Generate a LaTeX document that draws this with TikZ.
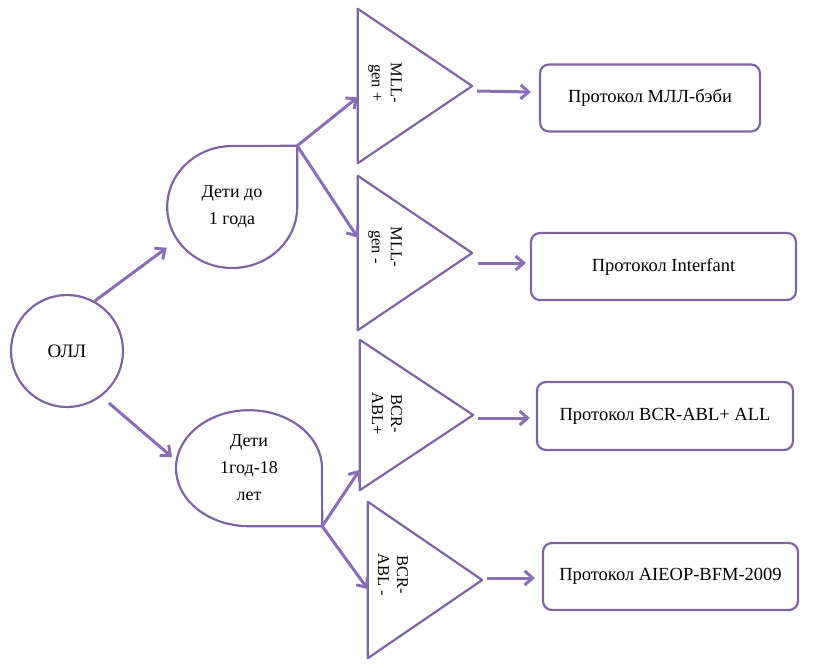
\documentclass[tikz,border=0pt]{standalone}
\usepackage{fontspec}
\setmainfont{Liberation Serif}
\definecolor{allPurple}{HTML}{8064A2}
\definecolor{allArrow}{HTML}{8A6DB5}
\usepackage{tikz}
\usetikzlibrary{arrows.meta, positioning}

\begin{document}
\begin{tikzpicture}[x=1pt, y=-1pt,
  shape line/.style={draw=allPurple, line width=2.2pt, line join=round},
  ring/.style={circle, shape line, minimum size=112pt, inner sep=0pt,
    font=\fontsize{19}{22}\selectfont},
  drop/.style={rectangle, inner sep=0pt, align=center,
    font=\fontsize{18}{27}\selectfont},
  trig/.style={rectangle, inner sep=0pt, minimum width=114pt,
    minimum height=154pt},
  gtxt/.style={rotate=-90, align=center, inner sep=0pt,
    font=\fontsize{16.5}{19}\selectfont},
  proto/.style={rectangle, rounded corners=9pt, shape line,
    minimum height=67pt, font=\fontsize{18.5}{21}\selectfont},
  arr/.style={draw=allArrow, line width=3pt,
    -{Straight Barb[length=8pt, width=14pt]}}]
  \useasboundingbox (0,0) rectangle (814,671);

  % left column
  \node[ring] (oll) at (67,351) {ОЛЛ};
  \node[drop, minimum width=130pt, minimum height=122pt] (kid1) at (232,207)
    {Дети до\\1 года};
  \node[drop, minimum width=146pt, minimum height=116pt] (kid2) at (249,468)
    {Дети\\1год-18\\лет};
  \draw[shape line] (kid1.east) arc[start angle=0, end angle=270,
    x radius=65, y radius=61] -- (kid1.north east) -- cycle;
  \draw[shape line] (kid2.south) arc[start angle=90, end angle=360,
    x radius=73, y radius=58] -- (kid2.south east) -- cycle;

  % gene triangles
  \node[trig] (t1) at (415,86) {};
  \node[trig] (t2) at (415,253) {};
  \node[trig, minimum width=113pt, minimum height=150pt] (t3) at (416.5,415) {};
  \node[trig, minimum height=156pt] (t4) at (425,580) {};
  \foreach \t in {t1,t2,t3,t4}
    \draw[shape line] (\t.north west) -- (\t.east) -- (\t.south west) -- cycle;
  \node[gtxt] (g1) at (385,83) {MLL-\\gen +};
  \node[gtxt] (g2) at (385,247) {MLL-\\gen -};
  \node[gtxt] (g3) at (387,414) {BCR-\\ABL+};
  \node[gtxt] (g4) at (393,575) {BCR-\\ABL -};

  % protocols
  \node[proto, minimum width=220pt] (p1) at (650,98) {Протокол МЛЛ-бэби};
  \node[proto, minimum width=265pt] (p2) at (663.5,266.5) {Протокол Interfant};
  \node[proto, minimum width=256pt, minimum height=68pt] (p3) at (665,416)
    {Протокол BCR-ABL+ ALL};
  \node[proto, minimum width=255pt] (p4) at (670.5,576.5)
    {Протокол AIEOP-BFM-2009};

  % arrows
  \draw[arr] (oll.61) -- (kid1.212);
  \draw[arr, shorten <=10pt, shorten >=5pt] (oll.-53) -- (kid2.174);
  \draw[arr] (kid1.north east) -- (t1.191);
  \draw[arr] (kid1.north east) -- (t2.165);
  \draw[arr] (kid2.south east) -- (t3.224);
  \draw[arr] (kid2.south east) -- (t4.189);
  \draw[arr] ([shift={(5,5)}]t1.east) -- ([shift={(-8,-6)}]p1.west);
  \draw[arr] ([shift={(6,10)}]t2.east) -- ([shift={(-4,-3.5)}]p2.west);
  \draw[arr] ([shift={(5,3)}]t3.east) -- ([shift={(-6,2)}]p3.west);
  \draw[arr] ([shift={(5,-2)}]t4.east) -- ([shift={(-7,1.5)}]p4.west);
\end{tikzpicture}
\end{document}
